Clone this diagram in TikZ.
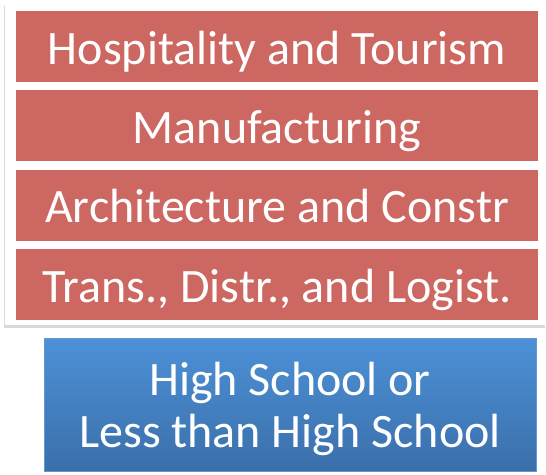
\documentclass[tikz,border=0pt]{standalone}
\usepackage{fontspec}
\setmainfont{Carlito}
\usetikzlibrary{positioning,shadows}

\definecolor{cluster}{RGB}{205,103,97}
\definecolor{basetop}{RGB}{76,145,215}
\definecolor{basebot}{RGB}{59,111,170}
\definecolor{baseedge}{RGB}{96,152,212}

\begin{document}
\begin{tikzpicture}[x = 1pt, y = -1pt,
        career/.style = {fill = cluster, text = white, inner sep = 0pt,
            minimum width = 522pt, minimum height = 71pt,
            text height = 35pt, text depth = 0pt,
            font = \fontsize{48}{52}\selectfont},
        level/.style = {top color = basetop, bottom color = basebot, draw = baseedge,
            text = white, inner sep = 0pt, align = center,
            minimum width = 492pt, minimum height = 133pt,
            text height = 85pt, text depth = 0pt,
            font = \fontsize{48}{52}\selectfont}]
        \useasboundingbox (0,0) rectangle (546,474);

        % panel behind the clusters
        \fill [white, drop shadow = {shadow xshift = -1pt, shadow yshift = -3pt, opacity = 0.3}]
            (5,3) rectangle (546,325);

        \node [career] (hosp) at (277,46.5) {Hospitality and Tourism};
        \node [career, below = 8pt of hosp] (manu) {Manufacturing};
        \node [career, below = 8pt of manu] (arch) {Architecture and Constr};
        \node [career, below = 8pt of arch] (trans) {Trans., Distr., and Logist.};

        \node [level] (school) at (290,404.5) {High School or\\Less than High School};
    \end{tikzpicture}
\end{document}
